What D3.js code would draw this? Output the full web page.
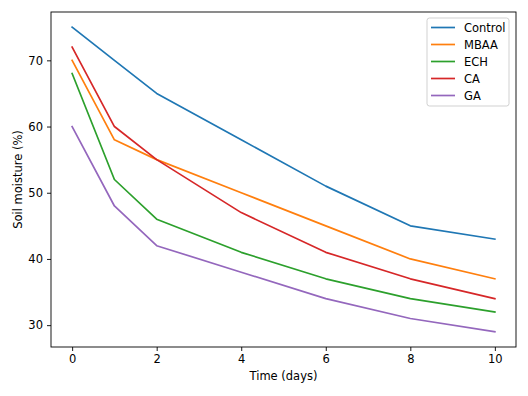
<!DOCTYPE html>
<html>
<head>
<meta charset="utf-8">
<script src="https://cdn.jsdelivr.net/npm/d3@7"></script>
<style>
  body { margin: 0; background: #fff; }
  text { font-family: "DejaVu Sans", sans-serif; fill: #000; }
</style>
</head>
<body>
<div id="chart"></div>
<script>
// Time points (days)
const days = [0, 1, 2, 4, 6, 8, 10];

// Soil moisture (%) per treatment
const control = [75, 70, 65, 58, 51, 45, 43];
const mbaa = [70, 58, 55, 50, 45, 40, 37];
const ech = [68, 52, 46, 41, 37, 34, 32];
const ca = [72, 60, 55, 47, 41, 37, 34];
const ga = [60, 48, 42, 38, 34, 31, 29];

const seriesNames = ["Control", "MBAA", "ECH", "CA", "GA"];
const seriesValues = [control, mbaa, ech, ca, ga];
const colors = ["#1f77b4", "#ff7f0e", "#2ca02c", "#d62728", "#9467bd"];

const xTicks = [0, 2, 4, 6, 8, 10];
const yTicks = [30, 40, 50, 60, 70];

const W = 528, H = 396;
const margin = { top: 12, right: 12, bottom: 49, left: 51 };
const width = W - margin.left - margin.right;
const height = H - margin.top - margin.bottom;

const svg = d3.select("#chart")
    .append("svg")
    .attr("width", W)
    .attr("height", H);

const g = svg.append("g")
    .attr("transform", `translate(${margin.left},${margin.top})`);

const x = d3.scaleLinear().domain([-0.5, 10.5]).range([0, width]);
const y = d3.scaleLinear().domain([26.7, 77.3]).range([height, 0]);

// Axes
const xAxis = g.append("g")
    .attr("transform", `translate(0,${height})`)
    .call(d3.axisBottom(x).tickValues(xTicks).tickSize(4).tickPadding(4).tickFormat(d3.format("d")));

const yAxis = g.append("g")
    .call(d3.axisLeft(y).tickValues(yTicks).tickSize(4).tickPadding(4).tickFormat(d3.format("d")));

[xAxis, yAxis].forEach(a => {
    a.select(".domain").remove();
    a.selectAll(".tick line").attr("stroke", "#000").attr("stroke-width", 0.9);
    a.selectAll(".tick text").style("font-size", "11.5px").style("font-family", "DejaVu Sans, sans-serif");
});

// Lines
const line = d3.line()
    .x((d, i) => x(days[i]))
    .y(d => y(d));

seriesValues.forEach((vals, i) => {
    g.append("path")
        .datum(vals)
        .attr("fill", "none")
        .attr("stroke", colors[i])
        .attr("stroke-width", 1.7)
        .attr("stroke-linejoin", "round")
        .attr("stroke-linecap", "square")
        .attr("d", line);
});

// Frame
g.append("rect")
    .attr("width", width)
    .attr("height", height)
    .attr("fill", "none")
    .attr("stroke", "#000")
    .attr("stroke-width", 0.9);

// Axis labels
svg.append("text")
    .attr("x", margin.left + width / 2)
    .attr("y", 380)
    .attr("text-anchor", "middle")
    .style("font-size", "11.5px")
    .text("Time (days)");

svg.append("text")
    .attr("transform", `translate(22,${margin.top + height / 2}) rotate(-90)`)
    .attr("text-anchor", "middle")
    .style("font-size", "11.5px")
    .text("Soil moisture (%)");

// Legend
const legend = svg.append("g").attr("transform", "translate(427,18)");
legend.append("rect")
    .attr("width", 82)
    .attr("height", 88)
    .attr("rx", 2.5)
    .attr("fill", "#fff")
    .attr("fill-opacity", 0.8)
    .attr("stroke", "#ccc")
    .attr("stroke-width", 0.9);

seriesNames.forEach((name, i) => {
    const row = legend.append("g").attr("transform", `translate(0,${9.5 + i * 17})`);
    row.append("line")
        .attr("x1", 4).attr("x2", 28)
        .attr("stroke", colors[i])
        .attr("stroke-width", 1.7);
    row.append("text")
        .attr("x", 37)
        .attr("dy", "0.35em")
        .style("font-size", "11.5px")
        .text(name);
});
</script>
</body>
</html>
